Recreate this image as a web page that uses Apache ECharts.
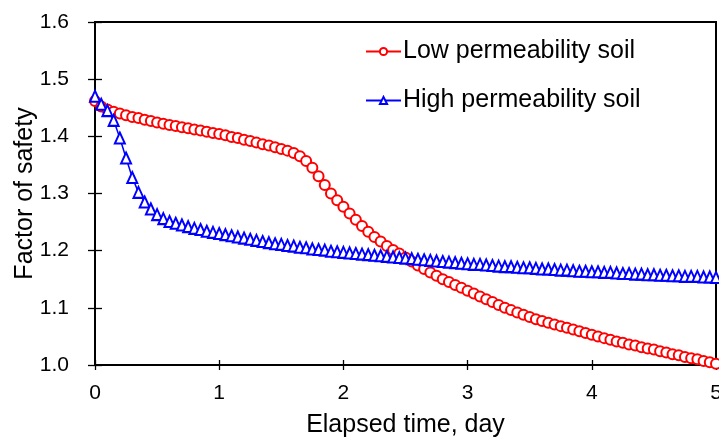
<!DOCTYPE html>
<html><head><meta charset="utf-8">
<script src="https://cdn.jsdelivr.net/npm/echarts@6/dist/echarts.min.js"></script>
<style>html,body{margin:0;padding:0;background:#fff}#c{width:719px;height:441px}</style>
</head><body><div id="c"></div>
<script>
const times = [0,0.05,0.1,0.15,0.2,0.25,0.3,0.35,0.4,0.45,
 0.5,0.55,0.6,0.65,0.7,0.75,0.8,0.85,0.9,0.95,
 1,1.05,1.1,1.15,1.2,1.25,1.3,1.35,1.4,1.45,
 1.5,1.55,1.6,1.65,1.7,1.75,1.8,1.85,1.9,1.95,
 2,2.05,2.1,2.15,2.2,2.25,2.3,2.35,2.4,2.45,
 2.5,2.55,2.6,2.65,2.7,2.75,2.8,2.85,2.9,2.95,
 3,3.05,3.1,3.15,3.2,3.25,3.3,3.35,3.4,3.45,
 3.5,3.55,3.6,3.65,3.7,3.75,3.8,3.85,3.9,3.95,
 4,4.05,4.1,4.15,4.2,4.25,4.3,4.35,4.4,4.45,
 4.5,4.55,4.6,4.65,4.7,4.75,4.8,4.85,4.9,4.95,
 5];
const lowPerm = [1.462,1.452,1.447,1.443,1.440,1.437,1.434,1.432,1.429,1.427,
 1.424,1.422,1.420,1.418,1.416,1.414,1.412,1.410,1.408,1.406,
 1.404,1.402,1.399,1.397,1.394,1.392,1.389,1.386,1.384,1.381,
 1.378,1.375,1.371,1.365,1.357,1.345,1.330,1.315,1.300,1.288,
 1.277,1.265,1.254,1.243,1.233,1.224,1.216,1.208,1.201,1.195,
 1.188,1.181,1.174,1.168,1.162,1.156,1.150,1.145,1.140,1.135,
 1.130,1.125,1.120,1.115,1.110,1.105,1.100,1.096,1.092,1.088,
 1.084,1.080,1.077,1.074,1.071,1.068,1.065,1.062,1.059,1.056,
 1.053,1.050,1.047,1.044,1.041,1.039,1.036,1.034,1.031,1.029,
 1.027,1.024,1.022,1.019,1.017,1.014,1.012,1.010,1.007,1.005,
 1.002];
const highPerm = [1.470,1.456,1.445,1.428,1.397,1.362,1.328,1.302,1.285,1.273,
 1.263,1.256,1.251,1.248,1.245,1.242,1.239,1.237,1.234,1.232,
 1.230,1.228,1.226,1.224,1.222,1.220,1.218,1.216,1.214,1.212,
 1.211,1.209,1.208,1.206,1.205,1.203,1.202,1.201,1.199,1.198,
 1.197,1.196,1.195,1.194,1.193,1.192,1.191,1.190,1.189,1.188,
 1.187,1.186,1.185,1.184,1.183,1.182,1.181,1.180,1.179,1.178,
 1.177,1.176,1.176,1.175,1.174,1.173,1.172,1.172,1.171,1.170,
 1.170,1.169,1.168,1.168,1.167,1.166,1.166,1.165,1.164,1.164,
 1.163,1.163,1.162,1.162,1.161,1.160,1.160,1.159,1.159,1.158,
 1.158,1.157,1.157,1.156,1.156,1.155,1.155,1.155,1.154,1.154,
 1.153];
const seriesNames = ['Low permeability soil','High permeability soil'];
const xTitle = 'Elapsed time, day';
const yTitle = 'Factor of safety';

const FONT = '"Liberation Sans", Arial, sans-serif';
const chart = echarts.init(document.getElementById('c'), null, {renderer:'canvas'});
const pairs = (ys) => times.map((t,i)=>[t, ys[i]]);
const axisLine = {show:true, onZero:false, lineStyle:{color:'#000', width:2}};
chart.setOption({
  animation:false,
  backgroundColor:'#fff',
  grid:{left:95, right:3, top:22, bottom:76, outerBoundsMode:'none', containLabel:false,
        show:true, borderColor:'#000', borderWidth:2, backgroundColor:'transparent'},
  legend:{
    orient:'vertical', left:365, top:39, padding:0, itemGap:24,
    itemWidth:35, itemHeight:9,
    textStyle:{fontFamily:FONT, fontSize:25, color:'#000', padding:[0,0,0,-3]},
    data:seriesNames
  },
  xAxis:[
    {type:'value', min:0, max:5, interval:1, position:'bottom',
     axisLine:axisLine, axisTick:{show:true, inside:false, length:5, lineStyle:{color:'#000', width:1.3}},
     axisLabel:{margin:18, fontFamily:FONT, fontSize:21, color:'#000'},
     splitLine:{show:false},
     name:xTitle, nameLocation:'middle', nameGap:48, nameMoveOverlap:false,
     nameTextStyle:{fontFamily:FONT, fontSize:25, color:'#000'}},
    {type:'value', min:0, max:5, interval:1, position:'bottom',
     axisLine:axisLine, axisTick:{show:true, inside:true, length:5, lineStyle:{color:'#000', width:1.3}},
     axisLabel:{show:false}, splitLine:{show:false}}
  ],
  yAxis:[
    {type:'value', min:1, max:1.6, interval:0.1, position:'left',
     axisLine:axisLine, axisTick:{show:true, inside:false, length:7, lineStyle:{color:'#000', width:1.3}},
     axisLabel:{margin:26, fontFamily:FONT, fontSize:21, color:'#000', formatter:(v)=>v.toFixed(1)},
     splitLine:{show:false},
     name:yTitle, nameLocation:'middle', nameGap:57, nameMoveOverlap:false,
     nameTextStyle:{fontFamily:FONT, fontSize:25, color:'#000'}},
    {type:'value', min:1, max:1.6, interval:0.1, position:'left',
     axisLine:axisLine, axisTick:{show:true, inside:true, length:7, lineStyle:{color:'#000', width:1.3}},
     axisLabel:{show:false}, splitLine:{show:false}}
  ],
  series:[
    {name:seriesNames[0], type:'line', data:pairs(lowPerm), clip:false,
     symbol:'emptyCircle', symbolSize:10, showAllSymbol:true,
     lineStyle:{color:'#ff0000', width:1.2}, itemStyle:{color:'#ff0000', borderColor:'#ff0000', borderWidth:1.1}},
    {name:seriesNames[1], type:'line', data:pairs(highPerm), clip:false,
     symbol:'emptyTriangle', symbolSize:[10,11], showAllSymbol:true,
     lineStyle:{color:'#0000ff', width:1.5}, itemStyle:{color:'#0000ff', borderColor:'#0000ff', borderWidth:1.2}}
  ]
});
</script></body></html>
